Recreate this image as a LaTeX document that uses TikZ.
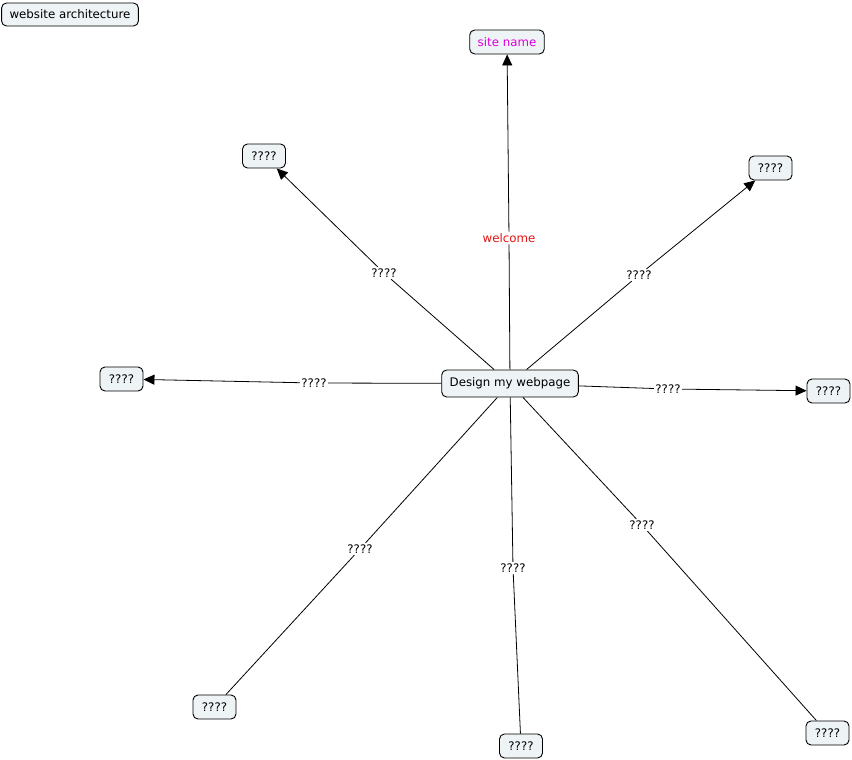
\documentclass[tikz,border=0pt]{standalone}
\usepackage{fontspec}
\setmainfont{DejaVu Sans}
\usetikzlibrary{arrows.meta}
\definecolor{cfill}{RGB}{238,243,245}
\definecolor{wred}{RGB}{230,20,20}
\definecolor{smag}{RGB}{220,0,220}
\begin{document}
\begin{tikzpicture}[x=1pt,y=-1pt,
  concept/.style={draw=black,line width=0.9pt,fill=cfill,rounded corners=5pt,
    minimum height=24pt,inner xsep=8pt,inner ysep=2pt,font=\fontsize{11.8}{13}\selectfont},
  qbox/.style={concept,minimum width=43pt},
  phrase/.style={fill=white,inner sep=1.5pt,font=\fontsize{11.8}{13}\selectfont},
  link/.style={line width=0.8pt,draw=black},
  arr/.style={link,-{Triangle[length=11pt,width=10pt]}}]
\useasboundingbox (0,0) rectangle (852,760);
\node[concept,minimum height=23pt] (wa) at (70,14.5) {website architecture};
\node[concept,text=smag] (sn) at (507,42) {site name};
\node[concept,minimum height=27pt] (c) at (510,383.5) {Design my webpage};
\node[qbox] (tl) at (264,156) {????};
\node[qbox] (tr) at (770.5,168) {????};
\node[qbox] (l) at (121.5,379) {????};
\node[qbox] (r) at (828.5,391) {????};
\node[qbox] (bl) at (214.5,707) {????};
\node[qbox] (b) at (521,746) {????};
\node[qbox] (br) at (827.5,733) {????};
% phrases
\node[phrase,text=wred] (pw) at (509,238) {welcome};
\node[phrase] (ptl) at (384,273) {????};
\node[phrase] (ptr) at (639,275) {????};
\node[phrase] (pl) at (314,383) {????};
\node[phrase] (pr) at (668,389) {????};
\node[phrase] (pbl) at (360,549) {????};
\node[phrase] (pb) at (513,568) {????};
\node[phrase] (pbr) at (642,525) {????};
% links
\draw[link] (c) -- (pw); \draw[arr] (pw) -- (sn);
\draw[link] (c) -- (ptl); \draw[arr] (ptl) -- (tl);
\draw[link] (c) -- (ptr); \draw[arr] (ptr) -- (tr);
\draw[link] (c) -- (pl); \draw[arr] (pl) -- (l);
\draw[link] (c) -- (pr); \draw[arr] (pr) -- (r);
\draw[link] (c) -- (pbl); \draw[link] (pbl) -- (bl);
\draw[link] (c) -- (pb); \draw[link] (pb) -- (b);
\draw[link] (c) -- (pbr); \draw[link] (pbr) -- (br);
\end{tikzpicture}
\end{document}
